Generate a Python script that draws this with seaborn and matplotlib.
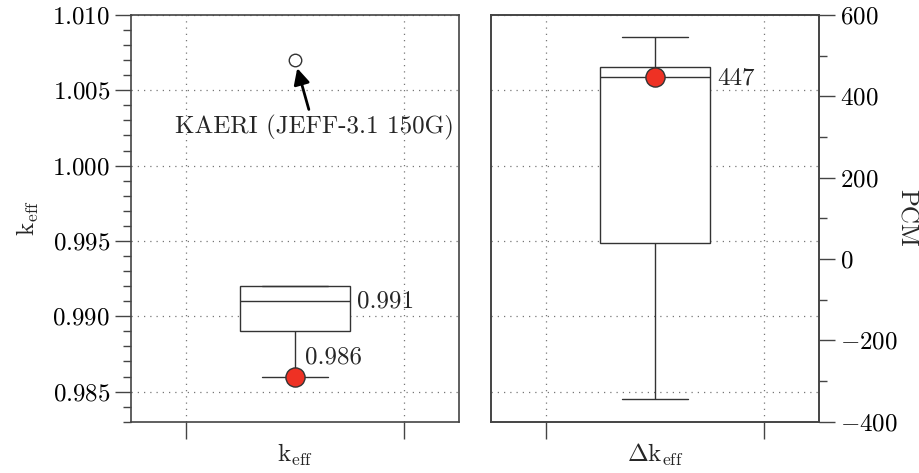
import matplotlib
matplotlib.use("Agg")
import matplotlib.pyplot as plt
from matplotlib.ticker import MultipleLocator, FuncFormatter, FixedLocator
import seaborn as sns
import numpy as np

# ---- data ----
keff_values = [0.986, 0.989, 0.989, 0.991, 0.992, 0.992, 1.007]   # gives whisker 0.986, Q1 0.989, med 0.991, Q3 0.992, outlier 1.007
keff_highlight = 0.986
keff_median_label = "0.991"
keff_highlight_label = "0.986"
outlier_label = "KAERI (JEFF-3.1 150G)"
outlier_value = 1.007

dk_values = [-345, 40, 447, 473, 545]   # PCM: whisker low, Q1, median, Q3, whisker high
dk_highlight = 447
dk_label = "447"

sns.set_theme(style="white")
FS = 18
plt.rcParams.update({
    "font.family": "serif",
    "font.serif": ["cmr10", "DejaVu Serif"],
    "mathtext.fontset": "cm",
    "axes.unicode_minus": False,
    "font.size": FS,
    "axes.edgecolor": "#444444",
    "axes.linewidth": 1.2,
    "xtick.color": "#444444",
    "ytick.color": "#444444",
    "xtick.labelcolor": "black",
    "ytick.labelcolor": "black",
})

LINE = "#333333"
RED = "#ee3124"

fig = plt.figure(figsize=(9.2, 4.73), dpi=100)
ax1 = fig.add_axes([0.1424, 0.1084, 0.3565, 0.860])
ax2 = fig.add_axes([0.5337, 0.1084, 0.3565, 0.860], sharey=ax1)
ax2r = ax2.twinx()

box_kw = dict(width=1/3, color="white", linecolor=LINE, linewidth=1.0, whis=1.5,
              fliersize=9,
              flierprops=dict(marker="o", markerfacecolor="white", markeredgecolor=LINE,
                              markeredgewidth=1.0))

# ---- left panel ----
sns.boxplot(y=keff_values, ax=ax1, capwidths=0.2, **box_kw)
sns.scatterplot(x=[0], y=[keff_highlight], ax=ax1, s=190, color=RED, edgecolor=LINE,
                linewidth=1.0, zorder=6, legend=False)
ax1.text(0.19, 0.991, keff_median_label, ha="left", va="center", fontsize=FS)
ax1.text(0.03, 0.9873, keff_highlight_label, ha="left", va="center", fontsize=FS)
ax1.annotate(outlier_label, xy=(0.0, outlier_value), xytext=(0.058, 1.0025),
             ha="center", va="center", fontsize=FS,
             arrowprops=dict(arrowstyle="-|>", color="black", lw=2.0,
                             mutation_scale=24, shrinkA=2, shrinkB=6))

ax1.set_ylim(0.983, 1.010)
ax1.yaxis.set_major_locator(MultipleLocator(0.005))
ax1.yaxis.set_minor_locator(MultipleLocator(0.001))
ax1.yaxis.set_major_formatter(FuncFormatter(lambda v, p: f"${v:.3f}$"))
ax1.set_ylabel(r"$\mathrm{k}_{\mathrm{eff}}$", fontsize=FS, labelpad=8)
ax1.set_xlabel(r"$\mathrm{k}_{\mathrm{eff}}$", fontsize=FS, labelpad=-1)

# ---- right panel ----
sns.boxplot(y=dk_values, ax=ax2r, capwidths=0.2, **box_kw)
sns.scatterplot(x=[0], y=[dk_highlight], ax=ax2r, s=190, color=RED, edgecolor=LINE,
                linewidth=1.0, zorder=6, legend=False)
ax2r.text(0.19, 443, dk_label, ha="left", va="center", fontsize=FS)
ax2r.set_ylim(-400, 600)
ax2r.yaxis.set_major_locator(MultipleLocator(200))
ax2r.yaxis.set_minor_locator(MultipleLocator(100))
ax2r.yaxis.set_major_formatter(FuncFormatter(lambda v, p: f"${v:.0f}$"))
ax2r.set_ylabel("PCM", fontsize=FS, rotation=270, labelpad=14)
ax2r.yaxis.set_label_position("right")
ax2.set_xlabel(r"$\Delta\mathrm{k}_{\mathrm{eff}}$", fontsize=FS, labelpad=-1)
ax2r.set_xlabel("")

for ax in (ax1, ax2, ax2r):
    ax.set_xlim(-0.5, 0.5)
    ax.xaxis.set_major_locator(FixedLocator([-1/3, 1/3]))
    ax.set_xticklabels([])

for ax in (ax1, ax2):
    ax.grid(True, which="major", linestyle=(0, (1, 4)), color="#777777", linewidth=0.9)
    ax.set_axisbelow(True)
ax2r.grid(False)

ax1.tick_params(axis="y", which="major", direction="out", length=11.5, width=1.0, labelsize=FS, left=True)
ax1.tick_params(axis="y", which="minor", direction="out", length=5.8, width=1.0, left=True)
ax2.tick_params(axis="y", which="both", left=False, labelleft=False, length=0)
ax2r.tick_params(axis="y", which="major", direction="out", length=11.5, width=1.0, labelsize=FS, right=True)
ax2r.tick_params(axis="y", which="minor", direction="out", length=5.8, width=1.0, right=True)
for ax in (ax1, ax2):
    ax.tick_params(axis="x", which="major", direction="out", length=12, width=1.0, bottom=True)
ax2r.tick_params(axis="x", bottom=False, top=False)

for ax in (ax1, ax2, ax2r):
    for s in ax.spines.values():
        s.set_visible(True)
        s.set_color("#444444")
        s.set_linewidth(1.2)

fig.savefig("out.png", dpi=100)
